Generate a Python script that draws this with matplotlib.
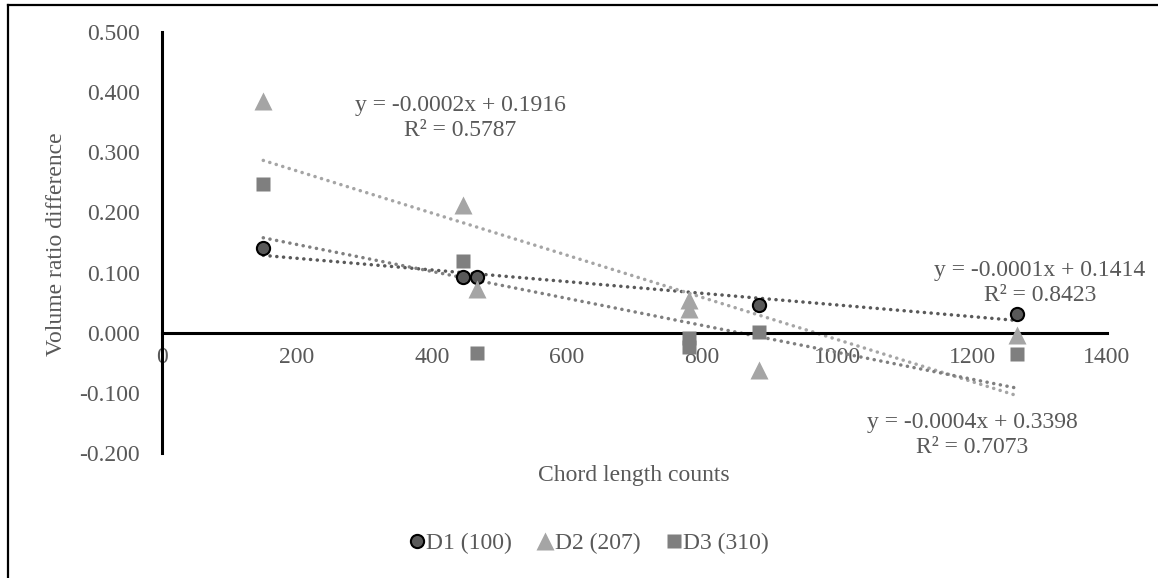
# >>>> </> EXTERNAL IMPORTS </>
# >>>> ************************************************************************************************
import numpy as np
from matplotlib import pyplot as plt
from matplotlib.lines import Line2D
# >>>> ************************************************************************************************

# ___________________________________________________________________________________________
# --- DATA ---
d1_x = [150, 446, 467, 884, 1267]
d1_y = [0.141, 0.093, 0.093, 0.046, 0.031]

d2_x = [150, 446, 467, 780, 780, 884, 1267]
d2_y = [0.385, 0.213, 0.073, 0.055, 0.040, -0.062, -0.003]

d3_x = [150, 446, 467, 780, 780, 884, 1267]
d3_y = [0.248, 0.120, -0.033, -0.008, -0.023, 0.002, -0.035]

series_labels = ["D1 (100)", "D2 (207)", "D3 (310)"]
trend_texts = ["y = -0.0001x + 0.1414\nR² = 0.8423",
               "y = -0.0004x + 0.3398\nR² = 0.7073",
               "y = -0.0002x + 0.1916\nR² = 0.5787"]

x_ticks = [0, 200, 400, 600, 800, 1000, 1200, 1400]
y_ticks = [-0.2, -0.1, 0.0, 0.1, 0.2, 0.3, 0.4, 0.5]

# ___________________________________________________________________________________________
# --- STYLE ---
plt.rcParams["font.family"] = ["Liberation Serif", "DejaVu Serif"]
TXT = "#595959"
FS = 17
W, H = 1158, 578

fig = plt.figure(figsize=(W / 100, H / 100), dpi=100)
ax = fig.add_axes([162 / W, (H - 453) / H, 945 / W, 421 / H])

ax.set_xlim(0, 1400)
ax.set_ylim(-0.2, 0.5)

# ___________________________________________________________________________________________
# --- TRENDLINES ---
trend_colors = ["#595959", "#A5A5A5", "#7F7F7F"]
for (xs, ys), col in zip([(d1_x, d1_y), (d2_x, d2_y), (d3_x, d3_y)], trend_colors):
    k, b = np.polyfit(xs, ys, 1)
    xx = np.array([min(xs), max(xs)])
    ax.plot(xx, k * xx + b, color=col, lw=2.5, linestyle=(0, (0.05, 1.9)),
            dash_capstyle="round", zorder=2)

# ___________________________________________________________________________________________
# --- MARKERS ---
h1, = ax.plot(d1_x, d1_y, "o", ms=9.5, mfc="#595959", mec="black", mew=1.5, zorder=3)
h2, = ax.plot(d2_x, d2_y, "^", ms=12.5, mfc="#A5A5A5", mec="none", zorder=4)
h3, = ax.plot(d3_x, d3_y, "s", ms=10, mfc="#7F7F7F", mec="none", zorder=5)

# ___________________________________________________________________________________________
# --- AXES ---
for s in ["top", "right"]:
    ax.spines[s].set_visible(False)
ax.spines["bottom"].set_position(("data", 0))
ax.spines["bottom"].set_linewidth(2.2)
ax.spines["left"].set_linewidth(2.2)

ax.set_xticks(x_ticks)
ax.set_xticklabels([str(v) for v in x_ticks])
ax.set_yticks(y_ticks)
ax.set_yticklabels([f"{v:.3f}" for v in y_ticks])
ax.tick_params(axis="both", length=0, labelsize=FS, labelcolor=TXT)
ax.tick_params(axis="x", pad=10)
ax.tick_params(axis="y", pad=16)

fig.text(57 / W, 1 - 244 / H, "Volume ratio difference", rotation=90,
         ha="center", va="center", fontsize=FS, color=TXT)
fig.text(634 / W, 1 - 475 / H, "Chord length counts",
         ha="center", va="center", fontsize=FS, color=TXT)

# ___________________________________________________________________________________________
# --- EQUATION LABELS ---
eq_pos = [(1040, 283), (972, 435), (460, 118)]
for txt, (px, py) in zip(trend_texts, eq_pos):
    fig.text(px / W, 1 - py / H, txt, ha="center", va="center",
             fontsize=FS, color=TXT, linespacing=1.3)

# ___________________________________________________________________________________________
# --- LEGEND ---
fig.legend([h1, h2, h3], series_labels, loc="center",
           bbox_to_anchor=(587 / W, 1 - 543 / H), ncol=3, frameon=False,
           fontsize=FS, labelcolor=TXT, handletextpad=-0.1, columnspacing=0.9,
           handlelength=1.0)

# ___________________________________________________________________________________________
# --- OUTER BORDER ---
fig.add_artist(Line2D([8 / W, 8 / W], [0, 1 - 5 / H], color="black", lw=1.6,
                      transform=fig.transFigure))
fig.add_artist(Line2D([8 / W, 1], [1 - 5 / H, 1 - 5 / H], color="black", lw=1.6,
                      transform=fig.transFigure))

fig.savefig("out.png", dpi=100)
